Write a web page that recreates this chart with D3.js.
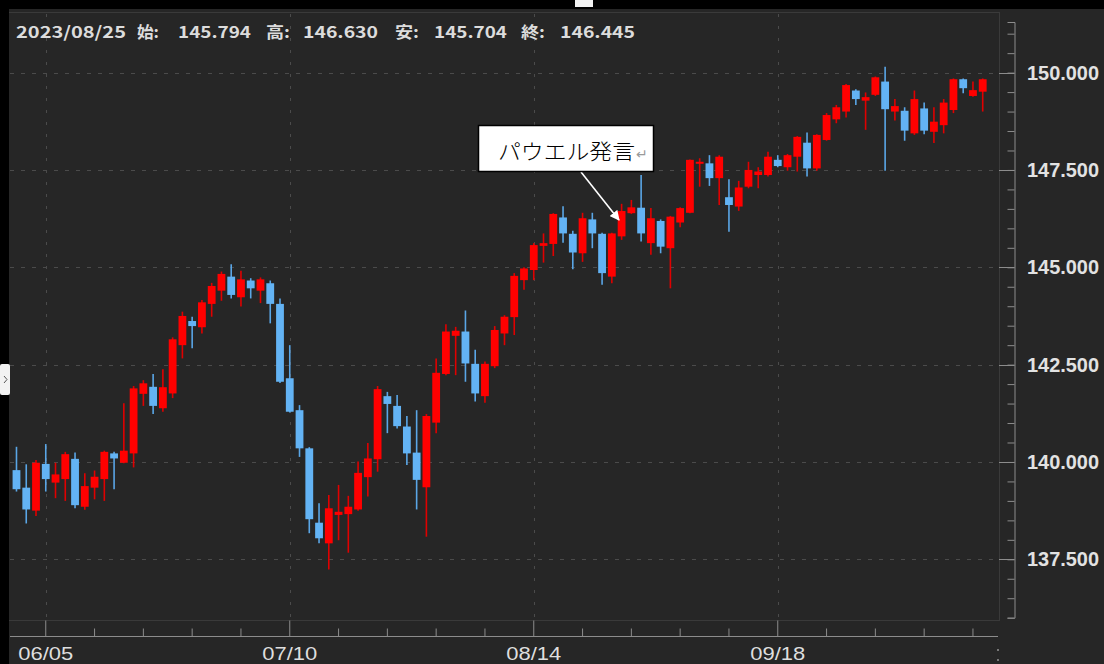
<!DOCTYPE html>
<html>
<head>
<meta charset="utf-8">
<script src="https://cdn.jsdelivr.net/npm/d3@7"></script>
<style>
  html, body { margin: 0; padding: 0; background: #000; }
  svg { display: block; }
</style>
</head>
<body>
<div id="chart"></div>
<script>
// trading days 2023-05-31 .. 2023-10-17
var dates = [
  '05/31',
  '06/01','06/02','06/05','06/06','06/07','06/08','06/09','06/12','06/13','06/14','06/15','06/16',
  '06/19','06/20','06/21','06/22','06/23','06/26','06/27','06/28','06/29','06/30',
  '07/03','07/04','07/05','07/06','07/07','07/10','07/11','07/12','07/13','07/14','07/17','07/18',
  '07/19','07/20','07/21','07/24','07/25','07/26','07/27','07/28','07/31',
  '08/01','08/02','08/03','08/04','08/07','08/08','08/09','08/10','08/11','08/14','08/15','08/16',
  '08/17','08/18','08/21','08/22','08/23','08/24','08/25','08/28','08/29','08/30','08/31',
  '09/01','09/04','09/05','09/06','09/07','09/08','09/11','09/12','09/13','09/14','09/15','09/18',
  '09/19','09/20','09/21','09/22','09/25','09/26','09/27','09/28','09/29',
  '10/02','10/03','10/04','10/05','10/06','10/09','10/10','10/11','10/12','10/13','10/16','10/17'
];

var open = [
  139.79,139.34,138.75,139.95,139.47,139.56,140.08,138.85,139.34,139.56,
  140.22,139.98,140.22,141.75,141.93,141.38,141.76,143.00,143.62,143.46,
  144.06,144.40,144.76,144.23,144.66,144.40,144.59,144.06,142.15,141.33,
  140.35,138.44,137.91,138.64,138.66,138.78,139.61,140.07,141.69,141.44,
  140.91,140.24,139.35,141.01,142.26,143.24,143.35,142.52,141.69,142.46,
  143.30,143.72,144.67,144.93,145.55,145.60,146.28,145.86,145.36,146.23,
  145.86,144.76,145.794,146.39,146.53,145.62,146.19,145.49,146.15,146.40,
  147.67,147.67,147.29,146.80,146.56,147.07,147.37,147.37,147.76,147.57,
  147.84,148.20,147.54,148.27,148.80,149.00,149.54,149.28,149.43,149.77,
  149.00,149.02,148.44,149.08,148.48,148.65,149.04,149.83,149.40,149.51
];
var high = [
  140.39,139.94,140.05,140.46,139.98,140.26,140.24,139.71,139.78,140.29,
  140.26,141.51,141.95,142.10,142.26,142.38,143.20,143.86,143.73,144.16,
  144.60,144.89,145.08,144.91,144.72,144.74,144.66,144.20,143.00,141.46,
  140.38,138.94,139.15,139.41,139.13,140.01,140.49,141.95,141.80,141.72,
  141.18,141.33,141.23,142.66,143.54,143.47,143.89,142.88,142.58,143.49,
  143.77,144.85,145.00,145.62,145.87,146.39,146.57,145.94,146.40,146.40,
  145.89,145.89,146.630,146.73,147.37,146.52,146.23,146.32,146.54,147.77,
  147.80,147.88,147.88,147.26,147.22,147.71,147.57,147.97,147.88,147.91,
  148.37,148.46,148.42,148.96,149.17,149.71,149.57,149.49,149.90,150.15,
  149.32,149.11,149.54,149.23,149.11,149.32,149.85,149.85,149.77,149.85
];
var low = [
  139.24,138.42,138.61,139.24,139.07,139.00,138.81,138.77,139.04,139.00,
  139.30,139.97,139.86,141.44,141.23,141.29,141.64,142.66,142.92,143.30,
  143.73,144.14,144.20,143.99,144.20,144.08,143.56,142.03,141.27,140.13,
  138.17,137.91,137.24,137.99,137.67,138.75,139.11,139.75,140.74,140.86,
  139.92,138.78,138.08,140.74,142.23,142.23,142.06,141.55,141.52,142.41,
  143.00,143.26,144.42,144.67,145.12,145.29,145.63,144.95,145.14,145.49,
  144.55,144.59,145.704,146.37,145.66,145.32,145.36,144.46,146.03,146.39,
  147.07,147.09,146.60,145.91,146.45,147.03,147.03,147.33,147.57,147.48,
  147.46,147.33,147.48,148.25,148.70,148.85,149.17,148.53,149.40,147.48,
  148.77,148.25,148.40,148.42,148.19,148.44,148.96,149.47,149.38,149.00
];
var close = [
  139.30,138.78,139.98,139.56,139.68,140.20,138.89,139.38,139.62,140.26,
  140.09,140.29,141.89,142.02,141.44,141.92,143.15,143.75,143.49,144.10,
  144.52,144.83,144.29,144.69,144.46,144.69,144.06,142.06,141.29,140.35,
  138.53,138.04,138.81,138.72,138.85,139.72,140.09,141.87,141.49,140.92,
  140.22,139.54,141.18,142.29,143.35,143.37,142.53,141.76,142.52,143.39,
  143.73,144.78,144.97,145.57,145.62,146.37,145.87,145.38,146.26,145.87,
  144.85,145.87,146.445,146.54,145.87,146.26,145.53,146.30,146.52,147.76,
  147.71,147.29,147.84,146.60,147.05,147.50,147.46,147.84,147.60,147.88,
  148.35,147.54,148.40,148.91,149.11,149.68,149.32,149.37,149.88,149.06,
  149.14,148.51,149.32,148.51,148.74,149.23,149.83,149.60,149.55,149.83
];

var majorDates = ['06/05', '07/10', '08/14', '09/18'];
var minorDates = ['06/12','06/19','06/26','07/03','07/17','07/24','07/31','08/07',
                  '08/21','08/28','09/04','09/11','09/25','10/02','10/09','10/16'];
var yMajor = [137.5, 140, 142.5, 145, 147.5, 150];

var header = [
  { t: '2023/08/25', x: 16, w: 110 },
  { t: '始:', x: 137, w: 22 },
  { t: '145.794', x: 178, w: 73 },
  { t: '高:', x: 266, w: 24 },
  { t: '146.630', x: 303, w: 75 },
  { t: '安:', x: 395, w: 24 },
  { t: '145.704', x: 434, w: 73 },
  { t: '終:', x: 521, w: 24 },
  { t: '146.445', x: 560, w: 75 }
];

var note = 'パウエル発言';

var width = 1104, height = 664;
var upColor = '#ff0000', downColor = '#63b3f4';
var gridColor = '#4b4b4b';
var axisColor = '#8c8c8c';

var svg = d3.select('#chart').append('svg').attr('width', width).attr('height', height);

svg.append('rect').attr('width', width).attr('height', height).attr('fill', '#262626');
// black frame strips
svg.append('rect').attr('x', 0).attr('y', 0).attr('width', width).attr('height', 9).attr('fill', '#000');
svg.append('rect').attr('x', 0).attr('y', 0).attr('width', 9).attr('height', height).attr('fill', '#000');
svg.append('rect').attr('x', 575).attr('y', 0).attr('width', 18).attr('height', 7).attr('fill', '#f2f2f2');
svg.append('rect').attr('x', 0).attr('y', 364).attr('width', 10).attr('height', 31).attr('rx', 2).attr('fill', '#f2f2f2');
svg.append('path').attr('d', 'M4,376 L7,379.5 L4,383').attr('fill', 'none').attr('stroke', '#555').attr('stroke-width', 1);

var x = d3.scaleBand().domain(dates).range([11.6, 987.6]).paddingInner(0.2).paddingOuter(0.1);
var y = d3.scaleLinear().domain([136, 151.3]).range([617.7, 22.0]);
var cx = function (d) { return x(d) + x.bandwidth() / 2; };

// plot frame
var frame = svg.append('g').attr('stroke', '#3a3a3a').attr('stroke-width', 1);
frame.append('line').attr('x1', 9).attr('x2', 999).attr('y1', 12.5).attr('y2', 12.5);
frame.append('line').attr('x1', 999.5).attr('x2', 999.5).attr('y1', 12).attr('y2', 621);
frame.append('line').attr('x1', 9).attr('x2', 999).attr('y1', 620.5).attr('y2', 620.5);

// grid
var grid = svg.append('g').attr('stroke', gridColor).attr('stroke-width', 1).attr('stroke-dasharray', '4,7');
grid.selectAll('.hg').data(yMajor).enter().append('line')
  .attr('x1', 10).attr('x2', 999)
  .attr('y1', function (d) { return Math.round(y(d)) + 0.5; })
  .attr('y2', function (d) { return Math.round(y(d)) + 0.5; });
grid.selectAll('.vg').data(majorDates).enter().append('line')
  .attr('stroke-dasharray', '3,9')
  .attr('x1', function (d) { return Math.round(cx(d)) + 0.5; })
  .attr('x2', function (d) { return Math.round(cx(d)) + 0.5; })
  .attr('y1', 14).attr('y2', 620);

// candles
var candles = dates.map(function (d, i) {
  return { date: d, o: open[i], h: high[i], l: low[i], c: close[i] };
});
var cg = svg.append('g');
cg.selectAll('.wick').data(candles).enter().append('line')
  .attr('x1', function (d) { return cx(d.date); })
  .attr('x2', function (d) { return cx(d.date); })
  .attr('y1', function (d) { return y(d.h); })
  .attr('y2', function (d) { return y(d.l); })
  .attr('stroke', function (d) { return d.c >= d.o ? '#e00000' : '#5aa6e6'; })
  .attr('stroke-width', 1.6);
cg.selectAll('.body').data(candles).enter().append('rect')
  .attr('x', function (d) { return x(d.date); })
  .attr('width', x.bandwidth())
  .attr('y', function (d) { return y(Math.max(d.o, d.c)); })
  .attr('height', function (d) { return Math.max(2, Math.abs(y(d.o) - y(d.c))); })
  .attr('fill', function (d) { return d.c >= d.o ? upColor : downColor; });

// y axis (right)
var minorY = d3.range(136, 151.01, 0.5);
var yAxis = svg.append('g').attr('transform', 'translate(1014.5,0)')
  .call(d3.axisLeft(y).tickValues(minorY).tickSize(7).tickSizeOuter(7).tickFormat(''));
yAxis.selectAll('line').attr('stroke', axisColor);
yAxis.select('.domain').attr('stroke', axisColor);
svg.append('g').selectAll('line').data(yMajor).enter().append('line')
  .attr('x1', 999).attr('x2', 1014.5)
  .attr('y1', function (d) { return Math.round(y(d)) + 0.5; })
  .attr('y2', function (d) { return Math.round(y(d)) + 0.5; })
  .attr('stroke', axisColor);
svg.append('g').selectAll('text').data(yMajor).enter().append('text')
  .attr('x', 1027).attr('y', function (d) { return y(d) + 7; })
  .attr('font-family', 'Liberation Sans, Arial, sans-serif').attr('font-size', 20)
  .attr('font-weight', 'bold').attr('fill', '#e2e2e2')
  .attr('textLength', 72).attr('lengthAdjust', 'spacingAndGlyphs')
  .text(function (d) { return d3.format('.3f')(d); });

// x axis (bottom)
var xAxisY = 636.5;
svg.append('line').attr('x1', 10).attr('x2', 998).attr('y1', xAxisY).attr('y2', xAxisY).attr('stroke', axisColor);
var xMinor = svg.append('g').attr('transform', 'translate(0,' + xAxisY + ')')
  .call(d3.axisBottom(x).tickValues(minorDates).tickSize(-8).tickFormat(''));
var xMajor = svg.append('g').attr('transform', 'translate(0,' + xAxisY + ')')
  .call(d3.axisBottom(x).tickValues(majorDates).tickSize(-16).tickPadding(6));
[xMinor, xMajor].forEach(function (g) {
  g.select('.domain').remove();
  g.selectAll('line').attr('stroke', axisColor);
});
xMajor.selectAll('text')
  .attr('font-family', 'Liberation Sans, Arial, sans-serif').attr('font-size', 19)
  .attr('fill', '#dedede').attr('dy', '0.9em')
  .attr('textLength', 55).attr('lengthAdjust', 'spacingAndGlyphs');
svg.append('rect').attr('x', 997).attr('y', 649).attr('width', 2).attr('height', 2).attr('fill', '#777');
svg.append('rect').attr('x', 997).attr('y', 659).attr('width', 2).attr('height', 2).attr('fill', '#777');

// header OHLC
svg.append('g').selectAll('text').data(header).enter().append('text')
  .attr('x', function (d) { return d.x; }).attr('y', 38)
  .attr('font-family', 'Noto Sans CJK JP, DejaVu Sans, sans-serif').attr('font-size', 16)
  .attr('font-weight', 'bold').attr('fill', '#dcdcdc')
  .attr('textLength', function (d) { return d.w; }).attr('lengthAdjust', 'spacingAndGlyphs')
  .text(function (d) { return d.t; });

// annotation
var defs = svg.append('defs');
defs.append('marker').attr('id', 'arrowhead')
  .attr('viewBox', '0 0 10 10').attr('refX', 9).attr('refY', 5)
  .attr('markerWidth', 10).attr('markerHeight', 10).attr('markerUnits', 'userSpaceOnUse')
  .attr('orient', 'auto')
  .append('path').attr('d', 'M0,0 L10,5 L0,10 z').attr('fill', '#fff');
svg.append('line')
  .attr('x1', 581).attr('y1', 172).attr('x2', 619).attr('y2', 220)
  .attr('stroke', '#fff').attr('stroke-width', 1.6)
  .attr('marker-end', 'url(#arrowhead)');
svg.append('rect').attr('x', 478.5).attr('y', 125.5).attr('width', 175).attr('height', 46)
  .attr('fill', '#fff').attr('stroke', '#000').attr('stroke-width', 1.5);
svg.append('text').attr('x', 498).attr('y', 159)
  .attr('font-family', 'Noto Sans CJK JP, sans-serif').attr('font-size', 21).attr('font-weight', 300)
  .attr('fill', '#000').attr('textLength', 137).attr('lengthAdjust', 'spacingAndGlyphs')
  .text(note);
svg.append('text').attr('x', 636).attr('y', 159)
  .attr('font-family', 'DejaVu Sans, sans-serif').attr('font-size', 14)
  .attr('fill', '#9a9a9a').text('↵');
</script>
</body>
</html>
